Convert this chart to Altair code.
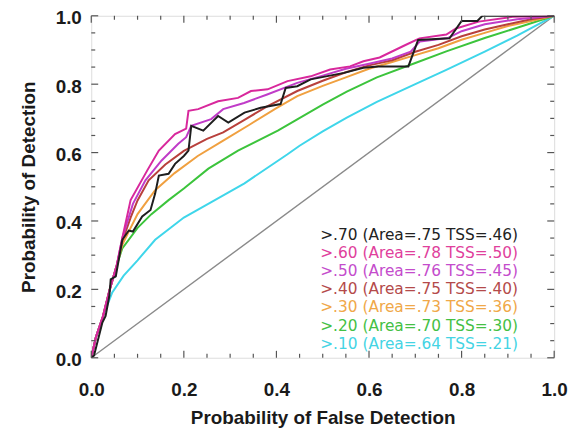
import altair as alt
import pandas as pd

# ---- data ----
series_names = [">.10", ">.20", ">.30", ">.40", ">.50", ">.60", ">.70"]
series_colors = ["#3fd6ea", "#3cc43c", "#f0a040", "#b8403c", "#c03cc8", "#d8289c", "#1e1e1e"]
legend_labels = [
    ">.70 (Area=.75 TSS=.46)",
    ">.60 (Area=.78 TSS=.50)",
    ">.50 (Area=.76 TSS=.45)",
    ">.40 (Area=.75 TSS=.40)",
    ">.30 (Area=.73 TSS=.36)",
    ">.20 (Area=.70 TSS=.30)",
    ">.10 (Area=.64 TSS=.21)",
]
legend_colors = ["#222222", "#e0409c", "#c44ccc", "#b44a4a", "#f0a848", "#44c044", "#44d4e4"]

x10 = [0, 0.01, 0.025, 0.045, 0.07, 0.1, 0.138, 0.2, 0.267, 0.331, 0.38, 0.424, 0.45, 0.5, 0.552, 0.617, 0.7, 0.767, 0.85, 0.92, 1.0]
y10 = [0, 0.06, 0.12, 0.19, 0.24, 0.285, 0.345, 0.41, 0.461, 0.51, 0.555, 0.595, 0.62, 0.662, 0.702, 0.748, 0.8, 0.842, 0.895, 0.942, 1.0]

x20 = [0, 0.01, 0.025, 0.04, 0.055, 0.067, 0.1, 0.13, 0.167, 0.2, 0.253, 0.317, 0.403, 0.445, 0.5, 0.552, 0.617, 0.7, 0.767, 0.85, 0.92, 1.0]
y20 = [0, 0.06, 0.12, 0.2, 0.27, 0.32, 0.38, 0.42, 0.461, 0.495, 0.553, 0.606, 0.664, 0.697, 0.74, 0.778, 0.82, 0.862, 0.896, 0.935, 0.965, 1.0]

x30 = [0, 0.01, 0.025, 0.04, 0.055, 0.067, 0.085, 0.1, 0.138, 0.18, 0.23, 0.285, 0.34, 0.4, 0.445, 0.5, 0.55, 0.6, 0.65, 0.7, 0.75, 0.8, 0.85, 0.9, 0.95, 1.0]
y30 = [0, 0.06, 0.12, 0.2, 0.27, 0.33, 0.38, 0.42, 0.49, 0.54, 0.59, 0.635, 0.68, 0.73, 0.765, 0.795, 0.82, 0.845, 0.865, 0.885, 0.905, 0.93, 0.95, 0.97, 0.985, 1.0]

x40 = [0, 0.01, 0.025, 0.04, 0.055, 0.067, 0.085, 0.1, 0.124, 0.16, 0.2, 0.25, 0.285, 0.33, 0.38, 0.445, 0.5, 0.55, 0.6, 0.65, 0.7, 0.75, 0.8, 0.85, 0.9, 0.95, 1.0]
y40 = [0, 0.06, 0.12, 0.2, 0.27, 0.34, 0.41, 0.46, 0.519, 0.565, 0.605, 0.64, 0.659, 0.695, 0.735, 0.78, 0.81, 0.835, 0.855, 0.87, 0.895, 0.915, 0.94, 0.96, 0.975, 0.99, 1.0]

x50 = [0, 0.01, 0.025, 0.04, 0.055, 0.067, 0.09, 0.117, 0.152, 0.188, 0.205, 0.216, 0.259, 0.285, 0.33, 0.38, 0.445, 0.5, 0.55, 0.6, 0.65, 0.69, 0.71, 0.77, 0.8, 0.85, 0.92, 1.0]
y50 = [0, 0.06, 0.12, 0.2, 0.27, 0.35, 0.45, 0.519, 0.577, 0.626, 0.645, 0.678, 0.698, 0.727, 0.745, 0.77, 0.804, 0.825, 0.845, 0.86, 0.875, 0.895, 0.925, 0.935, 0.955, 0.975, 0.99, 1.0]

x60 = [0, 0.01, 0.025, 0.04, 0.055, 0.067, 0.085, 0.121, 0.146, 0.181, 0.205, 0.21, 0.231, 0.274, 0.317, 0.345, 0.381, 0.424, 0.474, 0.516, 0.559, 0.588, 0.623, 0.681, 0.709, 0.767, 0.788, 0.837, 0.91, 1.0]
y60 = [0, 0.06, 0.12, 0.2, 0.27, 0.35, 0.461, 0.548, 0.606, 0.654, 0.67, 0.722, 0.727, 0.75, 0.76, 0.78, 0.785, 0.809, 0.823, 0.843, 0.852, 0.867, 0.878, 0.916, 0.934, 0.945, 0.963, 0.983, 0.997, 1.0]

x70 = [0, 0.006, 0.024, 0.031, 0.039, 0.042, 0.053, 0.067, 0.081, 0.09, 0.11, 0.128, 0.138, 0.146, 0.167, 0.181, 0.2, 0.21, 0.216, 0.242, 0.274, 0.296, 0.331, 0.366, 0.409, 0.42, 0.445, 0.474, 0.546, 0.588, 0.62, 0.685, 0.706, 0.774, 0.8, 0.834, 0.845, 1.0]
y70 = [0, 0.007, 0.103, 0.122, 0.18, 0.229, 0.238, 0.345, 0.372, 0.369, 0.413, 0.432, 0.48, 0.533, 0.538, 0.567, 0.59, 0.606, 0.678, 0.664, 0.707, 0.688, 0.717, 0.731, 0.742, 0.789, 0.794, 0.814, 0.833, 0.848, 0.852, 0.852, 0.929, 0.934, 0.985, 0.985, 1.0, 1.0]

diag_x = [0.0, 1.0]
diag_y = [0.0, 1.0]

major_ticks = [0.0, 0.2, 0.4, 0.6, 0.8, 1.0]
minor_ticks = [0.05, 0.1, 0.15, 0.25, 0.3, 0.35, 0.45, 0.5, 0.55, 0.65, 0.7, 0.75, 0.85, 0.9, 0.95]

# ---- build tables ----
xs = [x10, x20, x30, x40, x50, x60, x70]
ys = [y10, y20, y30, y40, y50, y60, y70]
rows = []
for name, sx, sy in zip(series_names, xs, ys):
    for i, (a, b) in enumerate(zip(sx, sy)):
        rows.append({"series": name, "x": a, "y": b, "i": i})
lines_df = pd.DataFrame(rows)
diag_df = pd.DataFrame({"x": diag_x, "y": diag_y})
leg_df = pd.DataFrame({"label": legend_labels, "col": legend_colors, "row": list(range(len(legend_labels)))})

W, H = 467, 345
FONT = "Liberation Sans"
xscale = alt.Scale(domain=[0, 1], nice=False, zero=False)
yscale = alt.Scale(domain=[0, 1], nice=False, zero=False)

x_axis = alt.Axis(values=major_ticks, format=".1f", labelFlush=False, ticks=False, domain=False, grid=False,
                  labelPadding=23, titlePadding=9, labelFont=FONT, labelFontSize=19, labelFontWeight="bold",
                  titleFont=FONT, titleFontSize=19, titleFontWeight="bold", labelColor="#1a1a1a", titleColor="#1a1a1a")
y_axis = alt.Axis(values=major_ticks, format=".1f", ticks=False, domain=False, grid=False, labelFlush=False,
                  labelPadding=10, titlePadding=17, labelOffset=2, labelFont=FONT, labelFontSize=19, labelFontWeight="bold",
                  titleFont=FONT, titleFontSize=19, titleFontWeight="bold", labelColor="#1a1a1a", titleColor="#1a1a1a")

X = alt.X("x:Q", scale=xscale, axis=x_axis, title="Probability of False Detection")
Y = alt.Y("y:Q", scale=yscale, axis=y_axis, title="Probability of Detection")

diag = alt.Chart(diag_df).mark_line(color="#8a8a8a", strokeWidth=1.4).encode(x=X, y=Y)

lines = alt.Chart(lines_df).mark_line(strokeWidth=2, clip=True).encode(
    x=X, y=Y,
    color=alt.Color("series:N", scale=alt.Scale(domain=series_names, range=series_colors), legend=None),
    order=alt.Order("i:Q"),
)

tick_layers = []
for vals, ln in [(major_ticks, 7), (minor_ticks, 4)]:
    tdf = pd.DataFrame({"x": vals, "y": vals})
    base = alt.Chart(tdf).mark_rule(color="#555555", strokeWidth=1.2)
    tick_layers.append(base.encode(x=X, y=alt.value(H), y2=alt.value(H - ln)))
    tick_layers.append(base.encode(x=X, y=alt.value(0), y2=alt.value(ln)))
    tick_layers.append(base.encode(y=Y, x=alt.value(0), x2=alt.value(ln)))
    tick_layers.append(base.encode(y=Y, x=alt.value(W), x2=alt.value(W - ln)))

legend = alt.Chart(leg_df).transform_calculate(
    py="221 + datum.row * 18.3"
).mark_text(align="left", baseline="middle", font="DejaVu Sans", fontSize=15.5).encode(
    x=alt.value(231),
    y=alt.Y("py:Q", scale=None),
    text="label:N",
    color=alt.Color("col:N", scale=None),
)

chart = alt.layer(diag, lines, *tick_layers, legend).properties(
    width=W, height=H,
    autosize=alt.AutoSizeParams(type="none"),
    padding={"left": 84, "top": 6, "right": 20, "bottom": 70},
).configure_view(stroke="#555555", strokeWidth=1.5).configure(background="white")

chart.save("out.html", embed_options={"renderer": "svg", "actions": False})
